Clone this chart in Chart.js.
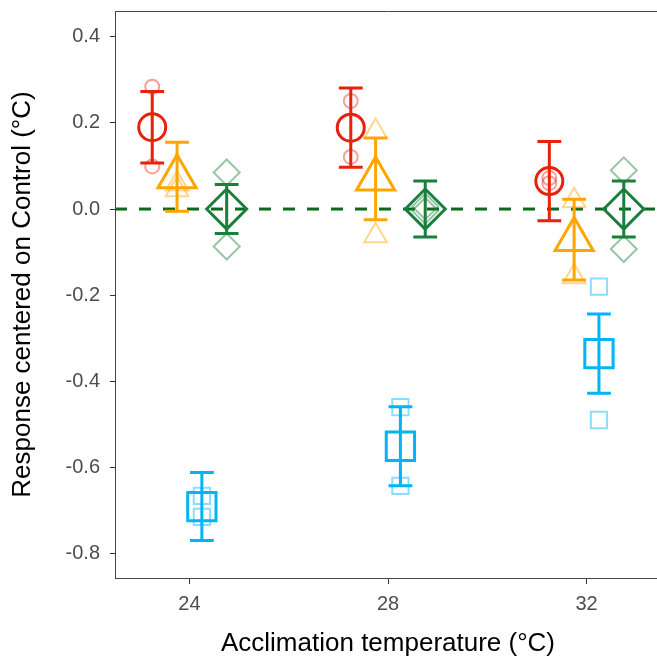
<!DOCTYPE html>
<html>
<head>
<meta charset="utf-8">
<script src="https://cdn.jsdelivr.net/npm/chart.js@4.4.1/dist/chart.umd.min.js"></script>
<style>
  html, body { margin: 0; padding: 0; overflow: hidden; background: #fff; }
</style>
</head>
<body>
<canvas id="myChart" width="661" height="658"></canvas>
<script>
// acclimation temperatures (x categories)
const temps = [24, 28, 32];

// means and standard errors, one value per temperature
const redMean = [0.190, 0.189, 0.065];
const redSE = [0.083, 0.092, 0.092];
const redReps = [[0.284, 0.099], [0.251, 0.121], [0.072, 0.060]];

const orangeMean = [0.075, 0.070, -0.071];
const orangeSE = [0.080, 0.095, 0.094];
const orangeReps = [[0.058, 0.045], [0.180, -0.062], [0.019, -0.157]];

const blueMean = [-0.691, -0.551, -0.336];
const blueSE = [0.079, 0.092, 0.092];
const blueReps = [[-0.666, -0.715], [-0.460, -0.643], [-0.180, -0.490]];

const greenMean = [0.000, 0.000, 0.000];
const greenSE = [0.057, 0.065, 0.065];
const greenReps = [[0.085, -0.087], [0.006, -0.004], [0.090, -0.093]];

const controlLevel = 0;

// styling / dodge per group
const groups = [
    { mean: redMean, se: redSE, reps: redReps, color: '#E8200C', fade: 'rgba(232,32,12,0.42)', style: 'circle', r: 13.5, rr: 7, dx: -0.75 },
    { mean: orangeMean, se: orangeSE, reps: orangeReps, color: '#FFA500', fade: 'rgba(255,165,0,0.45)', style: 'triangle', r: 22, rr: 13, dx: -0.25 },
    { mean: blueMean, se: blueSE, reps: blueReps, color: '#00B4F5', fade: 'rgba(0,180,245,0.45)', style: 'rect', r: 20, rr: 11.5, dx: 0.25 },
    { mean: greenMean, se: greenSE, reps: greenReps, color: '#1A7F3C', fade: 'rgba(26,127,60,0.45)', style: 'rectRot', r: 20, rr: 13, dx: 0.75 }
];
const capHalf = 0.24;
const xMin = 22.5, xMax = 33.5, yMin = -0.857, yMax = 0.46;

const datasets = [];

// dashed control line
datasets.push({
    type: 'line',
    data: [{ x: xMin, y: controlLevel }, { x: xMax, y: controlLevel }],
    borderColor: '#0B6A1F',
    borderWidth: 3,
    borderDash: [12, 12],
    pointRadius: 0,
    order: 10
});

groups.forEach(g => {
    // replicate points (faded)
    const reps = [];
    temps.forEach((t, i) => g.reps[i].forEach(v => reps.push({ x: t + g.dx, y: v })));
    datasets.push({
        type: 'scatter',
        data: reps,
        pointStyle: g.style,
        pointRadius: g.rr,
        pointBorderWidth: 2,
        pointBorderColor: g.fade,
        pointBackgroundColor: 'rgba(0,0,0,0)',
        order: 5
    });

    // error bars: vertical segment plus caps, gaps split the pieces
    const bars = [];
    temps.forEach((t, i) => {
        const x = t + g.dx;
        const lo = g.mean[i] - g.se[i];
        const hi = g.mean[i] + g.se[i];
        bars.push({ x: x, y: lo }, { x: x, y: hi }, { x: x, y: null });
        bars.push({ x: x - capHalf, y: hi }, { x: x + capHalf, y: hi }, { x: x, y: null });
        bars.push({ x: x - capHalf, y: lo }, { x: x + capHalf, y: lo }, { x: x, y: null });
    });
    datasets.push({
        type: 'line',
        data: bars,
        borderColor: g.color,
        borderWidth: 3,
        pointRadius: 0,
        spanGaps: false,
        order: 3
    });

    // means
    datasets.push({
        type: 'scatter',
        data: temps.map((t, i) => ({ x: t + g.dx, y: g.mean[i] })),
        pointStyle: g.style,
        pointRadius: g.r,
        pointBorderWidth: 3,
        pointBorderColor: g.color,
        pointBackgroundColor: 'rgba(0,0,0,0)',
        order: 1
    });
});

// no extra padding from tick labels, the frame is set by hand
function noPad(s) {
    s.paddingTop = 0;
    s.paddingBottom = 0;
    s.paddingLeft = 0;
    s.paddingRight = 0;
}

const ctx = document.getElementById('myChart').getContext('2d');
const myChart = new Chart(ctx, {
    type: 'scatter',
    data: { datasets: datasets },
    options: {
        responsive: false,
        animation: false,
        events: [],
        layout: { autoPadding: false, padding: { top: 0, left: 0, right: 0, bottom: 0 } },
        plugins: { legend: { display: false }, tooltip: { enabled: false } },
        scales: {
            x: {
                type: 'linear',
                min: xMin,
                max: xMax,
                afterBuildTicks: s => { s.ticks = temps.map(v => ({ value: v })); },
                afterFit: s => { s.height = 80; noPad(s); },
                grid: { drawOnChartArea: false, drawTicks: true, tickLength: 6, color: '#333', lineWidth: 1 },
                border: { display: true, color: '#444', width: 1 },
                ticks: { padding: 8, color: '#4D4D4D', font: { family: 'Liberation Sans', size: 20 } },
                title: {
                    display: true,
                    text: 'Acclimation temperature (°C)',
                    color: '#000',
                    font: { family: 'Liberation Sans', size: 26, lineHeight: 1.1 },
                    padding: { top: 0, bottom: 0 }
                }
            },
            x2: {
                type: 'linear',
                position: 'top',
                min: xMin,
                max: xMax,
                afterFit: s => { s.height = 11; noPad(s); },
                grid: { display: false },
                ticks: { display: false },
                border: { display: true, color: '#444', width: 1 }
            },
            y: {
                type: 'linear',
                min: yMin,
                max: yMax,
                afterFit: s => { s.width = 115; noPad(s); },
                grid: { drawOnChartArea: false, drawTicks: true, tickLength: 5, color: '#333', lineWidth: 1 },
                border: { display: true, color: '#444', width: 1 },
                ticks: {
                    stepSize: 0.2,
                    includeBounds: false,
                    padding: 10,
                    color: '#4D4D4D',
                    font: { family: 'Liberation Sans', size: 20 },
                    callback: v => (Math.abs(v) < 1e-9 ? 0 : v).toFixed(1)
                },
                title: {
                    display: true,
                    text: 'Response centered on Control (°C)',
                    color: '#000',
                    font: { family: 'Liberation Sans', size: 26, lineHeight: 1.2 },
                    padding: { top: 7, bottom: 0 }
                }
            }
        }
    }
});
</script>
</body>
</html>
